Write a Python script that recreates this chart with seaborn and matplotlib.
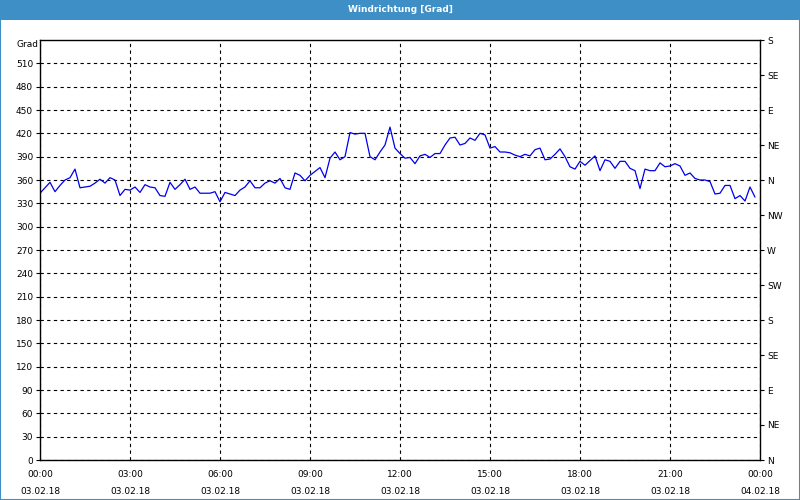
import matplotlib
matplotlib.use("Agg")
import matplotlib.pyplot as plt
import matplotlib.dates as mdates
from matplotlib.patches import Rectangle
import seaborn as sns
import pandas as pd

title = "Windrichtung [Grad]"
unit_label = "Grad"
start_time = "2018-02-03 00:00"
end_time = "2018-02-04 00:00"
sample_step = "10min"

wind_deg = [
    343, 350, 357, 345, 353, 360, 363, 374, 350, 351, 352, 356, 361, 356, 363, 360, 340, 348,  # 00:00-02:50
    347, 351, 344, 354, 351, 350, 340, 339, 357, 348, 354, 361, 348, 351, 343, 343, 343, 345,  # 03:00-05:50
    332, 344, 342, 340, 347, 351, 359, 350, 350, 356, 359, 356, 362, 350, 348, 369, 366, 359,  # 06:00-08:50
    366, 371, 376, 363, 388, 396, 386, 390, 421, 419, 420, 420, 390, 386, 396, 405, 428, 401,  # 09:00-11:50
    394, 388, 389, 381, 391, 393, 389, 394, 394, 405, 414, 415, 405, 407, 414, 411, 420, 418,  # 12:00-14:50
    401, 403, 396, 396, 395, 392, 390, 393, 391, 399, 401, 386, 387, 393, 400, 390, 377, 374,  # 15:00-17:50
    384, 379, 385, 391, 372, 386, 384, 375, 384, 384, 375, 372, 349, 374, 372, 372, 382, 377,  # 18:00-20:50
    378, 381, 378, 366, 369, 362, 360, 360, 358, 342, 343, 353, 353, 336, 340, 333, 351, 338,  # 21:00-23:50
]

left_ticks = list(range(0, 511, 30))
right_ticks = [0, 45, 90, 135, 180, 225, 270, 315, 360, 405, 450, 495, 540]
right_labels = ["N", "NE", "E", "SE", "S", "SW", "W", "NW", "N", "NE", "E", "SE", "S"]

times = pd.date_range(start_time, periods=len(wind_deg), freq=sample_step)
df = pd.DataFrame({"time": times, "deg": wind_deg})

sns.set_style("white")
plt.rcParams["font.family"] = ["DejaVu Sans"]
plt.rcParams["font.size"] = 6.5
plt.rcParams["text.color"] = "black"
plt.rcParams["xtick.color"] = "black"
plt.rcParams["ytick.color"] = "black"

fig = plt.figure(figsize=(8, 5), dpi=100)
fig.patch.set_facecolor("white")
# title bar
fig.patches.append(Rectangle((0, 0.96), 1, 0.04, transform=fig.transFigure,
                             facecolor="#3d8fc6", edgecolor="none", zorder=0))
fig.patches.append(Rectangle((0.0006, 0.001), 0.9988, 0.998, transform=fig.transFigure,
                             facecolor="none", edgecolor="#3d8fc6", linewidth=1.5, zorder=5))
fig.text(0.5, 0.98, title, ha="center", va="center", color="white",
         fontsize=6.5, fontweight="bold")

ax = fig.add_axes([0.05, 0.08, 0.90, 0.84])
sns.lineplot(data=df, x="time", y="deg", ax=ax, color="#0000ee", linewidth=0.9)

ax.set_xlim(pd.Timestamp(start_time), pd.Timestamp(end_time))
ax.set_ylim(0, 540)
ax.set_xlabel("")
ax.set_ylabel("")

ax.xaxis.set_major_locator(mdates.HourLocator(byhour=range(0, 24, 3)))
ax.xaxis.set_minor_locator(mdates.HourLocator())
ax.xaxis.set_major_formatter(mdates.DateFormatter("%H:%M\n%d.%m.%y"))
ax.set_yticks(left_ticks)

for lbl in ax.get_xticklabels():
    lbl.set_linespacing(2.15)

ax.tick_params(axis="x", which="major", direction="out", length=4, width=0.8, pad=3, labelcolor="black")
ax.tick_params(axis="x", which="minor", direction="out", length=3, width=0.8)
ax.tick_params(axis="y", which="major", direction="out", length=3, width=0.8, pad=2, labelcolor="black")

ax.grid(True, which="major", axis="both", color="black", linestyle=(0, (3, 3)), linewidth=0.8)
for s in ax.spines.values():
    s.set_visible(True)
    s.set_color("black")
    s.set_linewidth(1.0)

ax2 = ax.twinx()
ax2.set_ylim(0, 540)
ax2.set_yticks(right_ticks)
ax2.set_yticklabels(right_labels)
ax2.tick_params(axis="y", direction="out", length=3, width=0.8, pad=2, labelcolor="black")
for s in ax2.spines.values():
    s.set_visible(False)

fig.text(0.048, 0.911, unit_label, ha="right", va="center", fontsize=6.5, color="black")

fig.savefig("out.png", dpi=100)
